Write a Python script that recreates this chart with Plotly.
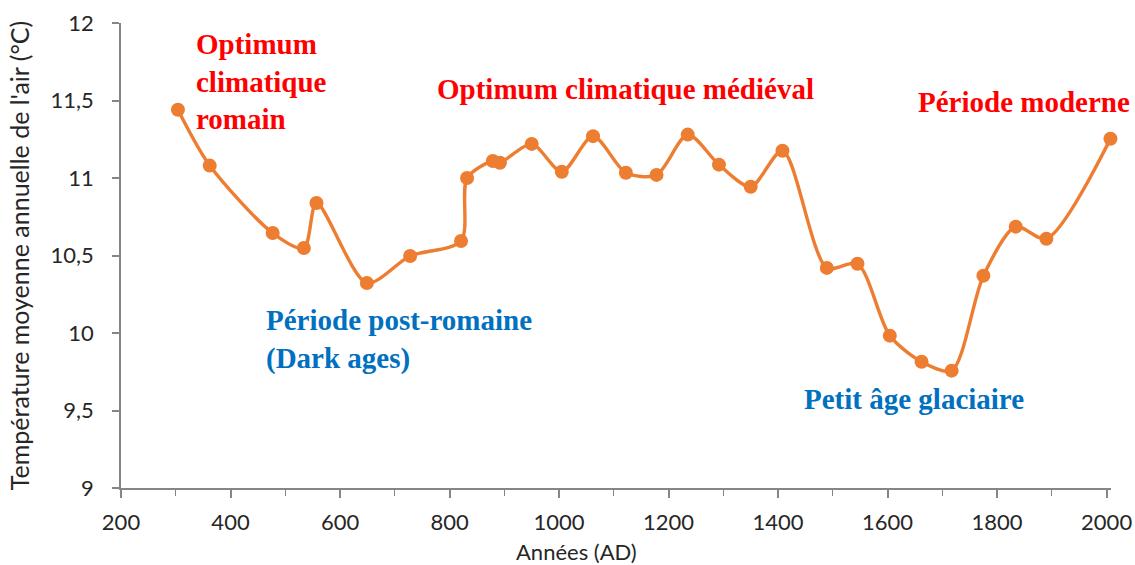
import plotly.graph_objects as go

years = [304, 362, 477, 534, 557, 649, 728, 821, 832, 879, 892, 950, 1005, 1062,
         1122, 1178, 1235, 1292, 1350, 1408, 1489, 1545, 1604, 1662, 1717, 1775,
         1834, 1890, 2007]
temps = [11.44, 11.08, 10.645, 10.548, 10.839, 10.323, 10.497, 10.594, 11.0, 11.11,
         11.098, 11.22, 11.04, 11.27, 11.034, 11.02, 11.28, 11.086, 10.944, 11.176,
         10.42, 10.447, 9.983, 9.815, 9.757, 10.37, 10.686, 10.608, 11.253]

x_ticks = [200, 400, 600, 800, 1000, 1200, 1400, 1600, 1800, 2000]
y_ticks = [9, 9.5, 10, 10.5, 11, 11.5, 12]
y_tick_labels = ["9", "9,5", "10", "10,5", "11", "11,5", "12"]

labels = [
    ("Optimum<br>climatique<br>romain", 334, 11.62, "left", "#FF0000"),
    ("Optimum climatique médiéval", 1121, 11.576, "center", "#FF0000"),
    ("Période moderne", 1850, 11.492, "center", "#FF0000"),
    ("Période post-romaine<br>(Dark ages)", 462, 9.957, "left", "#0070C0"),
    ("Petit âge glaciaire", 1648, 9.576, "center", "#0070C0"),
]

ORANGE = "#ED7D31"
AXIS_TEXT = "#262626"
AXIS_LINE = "#868686"

fig = go.Figure()
fig.add_trace(go.Scatter(
    x=years, y=temps, mode="lines+markers",
    line=dict(color=ORANGE, width=3.4, shape="spline", smoothing=0.8),
    marker=dict(color=ORANGE, size=14),
    cliponaxis=False, showlegend=False,
))

for text, x, y, align, color in labels:
    fig.add_annotation(
        x=x, y=y, xref="x", yref="y", text="<b>" + text + "</b>",
        showarrow=False, xanchor=align, yanchor="middle", align=align,
        font=dict(family="Liberation Serif", size=29, color=color),
    )

# x-axis title (offset left of the plot centre, as in the reference)
fig.add_annotation(
    x=0.4596, y=-0.1355, xref="paper", yref="paper", text="Années (AD)",
    showarrow=False, xanchor="center", yanchor="middle",
    font=dict(family="Lato", size=22, color=AXIS_TEXT),
)

fig.update_layout(
    width=1135, height=565,
    margin=dict(l=121, r=24, t=23, b=77, autoexpand=False),
    plot_bgcolor="white", paper_bgcolor="white",
    font=dict(family="Lato", color=AXIS_TEXT),
)

fig.update_xaxes(
    range=[200, 2008], tickvals=x_ticks, ticktext=[str(v) for v in x_ticks],
    showgrid=False, zeroline=False, automargin=False,
    showline=True, linecolor=AXIS_LINE, linewidth=1.5,
    ticks="outside", ticklen=8, tickwidth=1.5, tickcolor=AXIS_LINE,
    minor=dict(ticks="outside", ticklen=6, tickwidth=1.2, tickcolor=AXIS_LINE, dtick=100),
    tickfont=dict(family="Lato", size=22, color=AXIS_TEXT),
    ticklabelstandoff=6,
)
fig.update_yaxes(
    range=[9, 12], tickvals=y_ticks, ticktext=y_tick_labels,
    showgrid=False, zeroline=False, automargin=False,
    showline=True, linecolor=AXIS_LINE, linewidth=1.5,
    ticks="outside", ticklen=7, tickwidth=1.5, tickcolor=AXIS_LINE,
    tickfont=dict(family="Lato", size=22, color=AXIS_TEXT),
    ticklabelstandoff=14,
    title=dict(text="Température moyenne annuelle de l'air (°C)",
               font=dict(family="Lato", size=25, color=AXIS_TEXT), standoff=14),
)

fig.write_html(
    "out.html",
    config={"displayModeBar": False},
    post_script="document.body.style.margin='0';document.body.style.overflow='hidden';",
)
